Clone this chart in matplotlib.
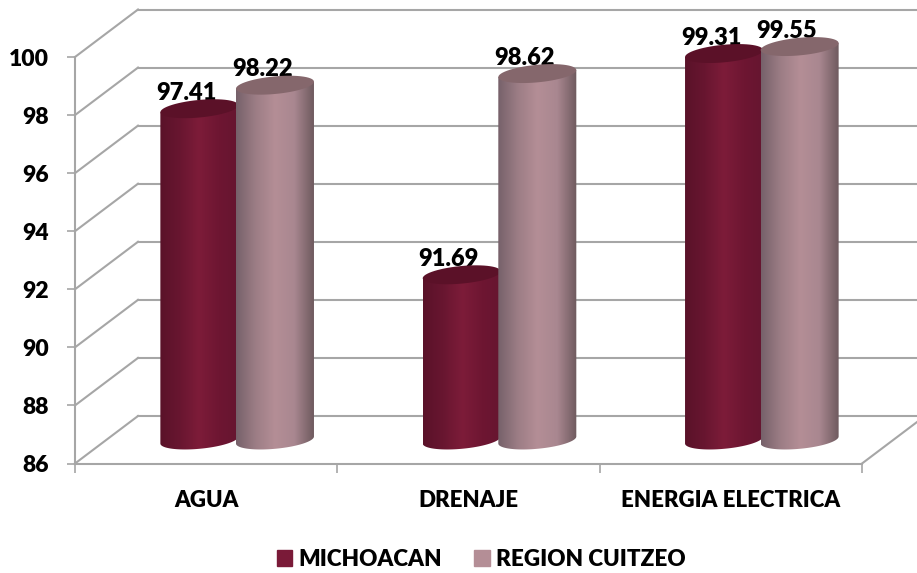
import numpy as np
import matplotlib
matplotlib.use("Agg")
import matplotlib.pyplot as plt
from matplotlib.colors import LinearSegmentedColormap
from matplotlib.patches import Patch, Polygon
from matplotlib.transforms import Affine2D

categories = ["AGUA", "DRENAJE", "ENERGIA ELECTRICA"]
series_names = ["MICHOACAN", "REGION CUITZEO"]
michoacan = [97.41, 91.69, 99.31]
cuitzeo = [98.22, 98.62, 99.55]
y_ticks = [86, 88, 90, 92, 94, 96, 98, 100]

W, H = 917, 573
L, R, B, T = 75, 862, 463.5, 57
plt.rcParams["font.family"] = ["Lato", "DejaVu Sans"]
WEIGHT = "heavy"
GRID = "#a6a6a6"

fig = plt.figure(figsize=(W / 100, H / 100), dpi=100)
ax = fig.add_axes([L / W, 1 - B / H, (R - L) / W, (B - T) / H])
ax.patch.set_visible(False)
PX_X = (R - L) / 3
PX_Y = (B - T) / 14

back = ax.transData + Affine2D().translate(63, 47.5)
mid = ax.transData + Affine2D().translate(31, 23.5)

# walls and floor
for v in y_ticks:
    ax.plot([0, 63 / PX_X], [v, v + 47.5 / PX_Y], color=GRID, lw=1.5, clip_on=False, zorder=1)
    ax.plot([0, 3.3], [v, v], color=GRID, lw=1.5, transform=back, clip_on=False, zorder=1)
ax.plot([3, 3 + 63 / PX_X], [86, 86 + 47.5 / PX_Y], color=GRID, lw=1.5, clip_on=False, zorder=1)

R_PX, B_PX, TILT = 39, 8.8, 3.5
GAP = 37.8 / PX_X
STYLES = [
    (["#5a1229", "#681630", "#7d1c39", "#6e1632", "#661530"], "#5b1128"),
    (["#76616a", "#9c7d85", "#b48e96", "#a98790", "#6e5a5e"], "#85676c"),
]


def cylinder(cx, v, stops, top):
    rx = R_PX / PX_X
    t = np.linspace(0, np.pi, 60)
    xs = np.r_[cx + rx * np.cos(t), cx + rx * np.cos(t[::-1])]
    ys = np.r_[v + TILT * np.cos(t) / PX_Y,
               86 + (TILT * np.cos(t[::-1]) - B_PX * np.sin(t[::-1])) / PX_Y]
    body = Polygon(np.c_[xs, ys], closed=True, transform=mid, fc="none", ec="none", clip_on=False)
    ax.add_patch(body)
    cmap = LinearSegmentedColormap.from_list("c", stops)
    im = ax.imshow(np.linspace(0, 1, 256)[None, :], cmap=cmap, aspect="auto",
                   extent=[cx - rx, cx + rx, 85, v + 2], transform=mid,
                   interpolation="bilinear", zorder=3)
    im.set_clip_path(body)
    im.set_clip_box(fig.bbox)
    cap = Polygon(np.c_[cx + rx * np.cos(2 * t), v + (B_PX * np.sin(2 * t) + TILT * np.cos(2 * t)) / PX_Y],
                  closed=True, transform=mid, fc=top, ec="none", zorder=3, clip_on=False)
    ax.add_patch(cap)


for i in range(3):
    for k, vals in enumerate([michoacan, cuitzeo]):
        cx = i + 0.5 + (k - 0.5) * 2 * GAP
        stops, top = STYLES[k]
        cylinder(cx, vals[i], stops, top)
        ax.annotate(f"{vals[i]:.2f}", (cx, vals[i]), xycoords=mid,
                    xytext=(-9.2, 11.5), textcoords="offset points",
                    ha="center", va="center", fontsize=17, fontweight=WEIGHT,
                    color="black", zorder=2.5, annotation_clip=False)

ax.set_xlim(0, 3)
ax.set_ylim(86, 100)
for s in ("top", "right"):
    ax.spines[s].set_visible(False)
for s in ("left", "bottom"):
    ax.spines[s].set_color(GRID)
    ax.spines[s].set_linewidth(1.5)
ax.set_yticks(y_ticks)
ax.set_yticklabels([str(v) for v in y_ticks], fontsize=16.5, fontweight=WEIGHT)
ax.tick_params(axis="y", length=6, width=1.2, color=GRID, pad=12.5)
ax.set_xticks([0, 1, 2, 3])
ax.set_xticklabels([])
ax.tick_params(axis="x", length=6.5, width=1.2, color=GRID)
ax.set_xticks([0.5, 1.5, 2.5], minor=True)
ax.set_xticklabels(categories, minor=True, fontsize=16, fontweight=WEIGHT)
ax.tick_params(axis="x", which="minor", length=0, pad=19)

fig.legend(handles=[Patch(color="#7a1a38", label=series_names[0]),
                    Patch(color="#b48e96", label=series_names[1])],
           loc="center", bbox_to_anchor=(481 / W, 1 - 559 / H), ncol=2, frameon=False,
           handlelength=0.7, handleheight=0.7, handletextpad=0.25,
           columnspacing=1.45, prop={"family": "Lato", "weight": WEIGHT, "size": 16.2})
fig.savefig("out.png", dpi=100)
